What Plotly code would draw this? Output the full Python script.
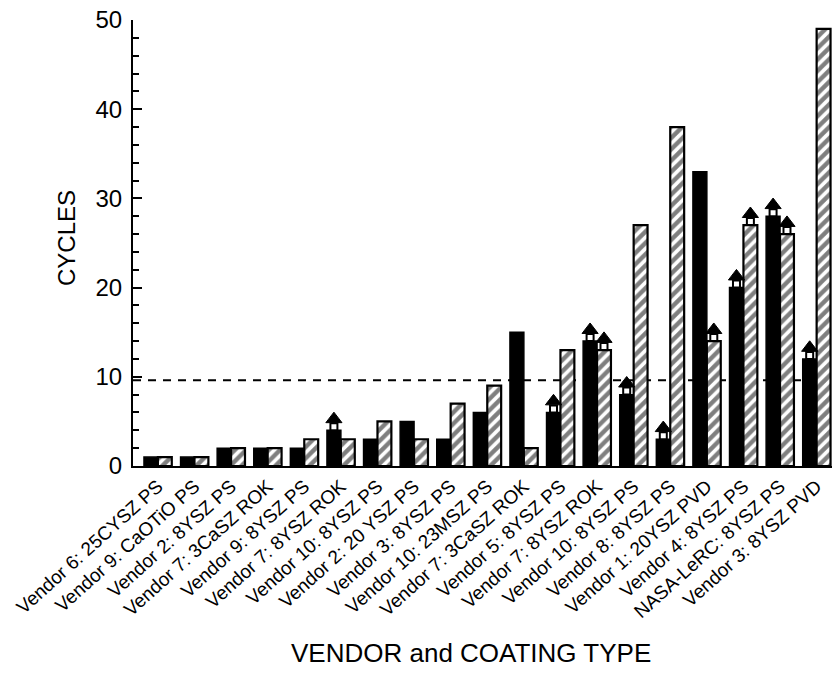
import plotly.graph_objects as go

categories = [
    "Vendor 6: 25CYSZ PS", "Vendor 9: CaOTiO PS", "Vendor 2: 8YSZ PS",
    "Vendor 7: 3CaSZ ROK", "Vendor 9: 8YSZ PS", "Vendor 7: 8YSZ ROK",
    "Vendor 10: 8YSZ PS", "Vendor 2: 20 YSZ PS", "Vendor 3: 8YSZ PS",
    "Vendor 10: 23MSZ PS", "Vendor 7: 3CaSZ ROK", "Vendor 5: 8YSZ PS",
    "Vendor 7: 8YSZ ROK", "Vendor 10: 8YSZ PS", "Vendor 8: 8YSZ PS",
    "Vendor 1: 20YSZ PVD", "Vendor 4: 8YSZ PS", "NASA-LeRC: 8YSZ PS",
    "Vendor 3: 8YSZ PVD",
]
solid_values = [1, 1, 2, 2, 2, 4, 3, 5, 3, 6, 15, 6, 14, 8, 3, 33, 20, 28, 12]
hatch_values = [1, 1, 2, 2, 3, 3, 5, 3, 7, 9, 2, 13, 13, 27, 38, 14, 27, 26, 49]
solid_arrow = [0, 0, 0, 0, 0, 1, 0, 0, 0, 0, 0, 1, 1, 1, 1, 0, 1, 1, 1]
hatch_arrow = [0, 0, 0, 0, 0, 0, 0, 0, 0, 0, 0, 0, 1, 0, 0, 1, 1, 1, 0]
threshold = 9.6
y_ticks = [0, 10, 20, 30, 40, 50]

FONT = "Liberation Sans"
idx = list(range(len(categories)))
W = 0.38

fig = go.Figure()
fig.add_trace(go.Bar(
    x=idx, y=solid_values, offset=-W, width=W,
    marker=dict(color="black", line=dict(color="black", width=1.5)),
    showlegend=False,
))
fig.add_trace(go.Bar(
    x=idx, y=hatch_values, offset=0, width=W,
    marker=dict(color="white", line=dict(color="black", width=2.2),
                pattern=dict(shape="/", fgcolor="black", bgcolor="white",
                             size=8, solidity=0.55)),
    showlegend=False,
))

# arrow markers (stem + head) on bars flagged as run-outs
def add_arrows(values, flags, dx):
    xs = [i + dx for i, f in zip(idx, flags) if f]
    vs = [v for v, f in zip(values, flags) if f]
    fig.add_trace(go.Scatter(
        x=xs, y=[v + 0.4 for v in vs], mode="markers",
        marker=dict(symbol="square", size=7, color="white",
                    line=dict(color="black", width=2)),
        showlegend=False, hoverinfo="skip", cliponaxis=False,
    ))
    fig.add_trace(go.Scatter(
        x=xs, y=[v + 1.25 for v in vs], mode="markers",
        marker=dict(symbol="triangle-up", size=14, color="black",
                    line=dict(color="black", width=1)),
        showlegend=False, hoverinfo="skip", cliponaxis=False,
    ))

add_arrows(solid_values, solid_arrow, -W / 2)
add_arrows(hatch_values, hatch_arrow, W / 2)

fig.add_shape(type="line", xref="paper", x0=0, x1=1, y0=threshold, y1=threshold,
              line=dict(color="black", width=2, dash="8px,7px"), layer="below")

fig.update_layout(
    width=832, height=675,
    margin=dict(l=133, r=0, t=20, b=209),
    paper_bgcolor="white", plot_bgcolor="white",
    barmode="overlay",
    font=dict(family=FONT, color="black"),
    xaxis=dict(
        range=[-0.68, 18.42], tickmode="array", tickvals=idx, ticktext=categories,
        tickangle=-42, tickfont=dict(size=19, family=FONT),
        showline=True, linecolor="black", linewidth=2, ticks="",
        showgrid=False, zeroline=False,
    ),
    yaxis=dict(
        range=[0, 50], tickvals=y_ticks, tickfont=dict(size=24, family=FONT),
        showline=True, linecolor="black", linewidth=2,
        ticks="inside", ticklen=9, tickwidth=2, tickcolor="black",
        minor=dict(dtick=2, ticks="inside", ticklen=6, tickwidth=1.5, tickcolor="black"),
        showgrid=False, zeroline=False, ticklabelstandoff=4,
    ),
    annotations=[
        dict(text="CYCLES", xref="paper", yref="paper", x=-0.096, y=0.511,
             textangle=-90, showarrow=False, font=dict(size=24, family=FONT),
             xanchor="center", yanchor="middle"),
        dict(text="VENDOR and COATING TYPE", xref="paper", yref="paper",
             x=0.484, y=-0.419, showarrow=False, font=dict(size=26, family=FONT),
             xanchor="center", yanchor="middle"),
    ],
)

fig.write_html("out.html")
